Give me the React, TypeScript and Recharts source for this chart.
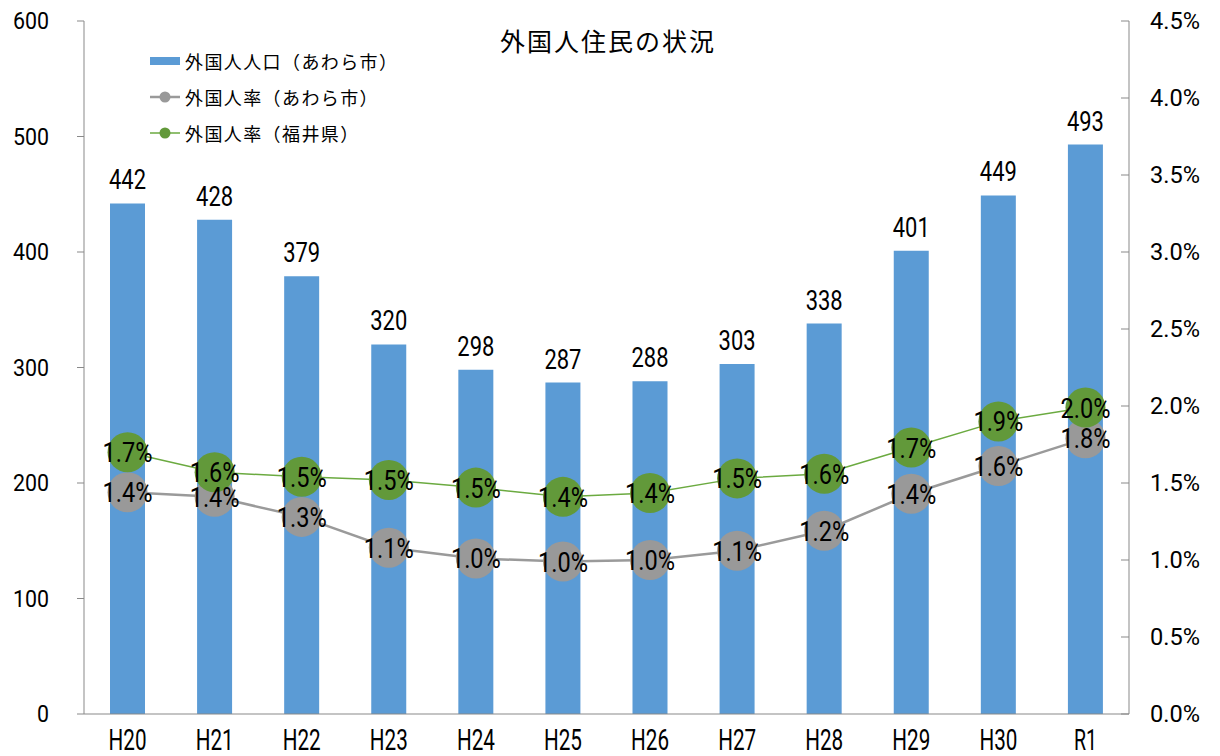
import React from 'react';
import { ComposedChart, Bar, Line, XAxis, YAxis, LabelList } from 'recharts';

const categories = ['H20', 'H21', 'H22', 'H23', 'H24', 'H25', 'H26', 'H27', 'H28', 'H29', 'H30', 'R1'];
const population = [442, 428, 379, 320, 298, 287, 288, 303, 338, 401, 449, 493];
const rateAwara = [1.44, 1.41, 1.28, 1.08, 1.01, 0.99, 1.0, 1.06, 1.19, 1.43, 1.61, 1.79];
const rateFukui = [1.7, 1.57, 1.54, 1.52, 1.47, 1.41, 1.435, 1.53, 1.56, 1.73, 1.9, 1.99];
const leftTicks = [0, 100, 200, 300, 400, 500, 600];
const rightTicks = [0, 0.5, 1.0, 1.5, 2.0, 2.5, 3.0, 3.5, 4.0, 4.5];

const TITLE = '外国人住民の状況';
const LEGEND_POP = '外国人人口（あわら市）';
const LEGEND_AWARA = '外国人率（あわら市）';
const LEGEND_FUKUI = '外国人率（福井県）';

const data = categories.map((c, i) => ({
  name: c,
  pop: population[i],
  awara: rateAwara[i],
  fukui: rateFukui[i],
}));

const BLUE = '#5B9BD5';
const GRAY = '#999999';
const GRAY_LINE = '#9a9a9a';
const GREEN = '#62993A';
const GREEN_LINE = '#6BAA40';
const AXIS = '#898989';
const NUM_FONT = 'Roboto, "Liberation Sans", sans-serif';
const CJK_FONT = '"Noto Sans CJK JP", "Noto Sans", sans-serif';

const LeftTick = (props: any) => {
  const { x, y, payload } = props;
  const s = String(payload.value);
  return (
    <g>
      <line x1={x - 7} x2={x} y1={y} y2={y} stroke={AXIS} strokeWidth={1} />
      <text
        x={x - 35}
        y={y + 8}
        textAnchor="end"
        fontFamily={NUM_FONT}
        fontSize={23}
        fill="#000"
        textLength={12 * s.length}
        lengthAdjust="spacingAndGlyphs"
      >
        {s}
      </text>
    </g>
  );
};

const RightTick = (props: any) => {
  const { x, y, payload } = props;
  const s = `${Number(payload.value).toFixed(1)}%`;
  return (
    <g>
      <line x1={x - 8} x2={x} y1={y} y2={y} stroke={AXIS} strokeWidth={1} />
      <text
        x={x + 21}
        y={y + 8}
        textAnchor="start"
        fontFamily={NUM_FONT}
        fontSize={23}
        fill="#000"
        textLength={50}
        lengthAdjust="spacingAndGlyphs"
      >
        {s}
      </text>
    </g>
  );
};

const XTick = (props: any) => {
  const { x, y, payload } = props;
  const s = String(payload.value);
  return (
    <text
      x={x}
      y={y + 36}
      textAnchor="middle"
      fontFamily={NUM_FONT}
      fontSize={29}
      fill="#000"
      textLength={s.length === 2 ? 23 : 38}
      lengthAdjust="spacingAndGlyphs"
    >
      {s}
    </text>
  );
};

const BarValueLabel = (props: any) => {
  const { x, y, width, value } = props;
  const s = String(value);
  return (
    <text
      x={x + width / 2}
      y={y - 14}
      textAnchor="middle"
      fontFamily={NUM_FONT}
      fontSize={27}
      fill="#000"
      textLength={37}
      lengthAdjust="spacingAndGlyphs"
    >
      {s}
    </text>
  );
};

const RateLabel = (props: any) => {
  const { x, y, value } = props;
  const s = `${Number(value).toFixed(1)}%`;
  return (
    <text
      x={x}
      y={y + 10}
      textAnchor="middle"
      fontFamily={NUM_FONT}
      fontSize={27}
      fill="#000"
      textLength={50}
      lengthAdjust="spacingAndGlyphs"
    >
      {s}
    </text>
  );
};

const legendRow = (top: number, icon: React.ReactNode, label: string) => (
  <div
    style={{
      position: 'absolute',
      left: 150,
      top: top - 13,
      height: 26,
      display: 'flex',
      alignItems: 'center',
      fontFamily: CJK_FONT,
      fontSize: 18,
      letterSpacing: 1.4,
      color: '#000',
      whiteSpace: 'nowrap',
    }}
  >
    <svg width={32} height={26} style={{ display: 'block' }}>
      {icon}
    </svg>
    <span style={{ marginLeft: 3 }}>{label}</span>
  </div>
);

export default function App() {
  return (
    <div style={{ position: 'absolute', left: 0, top: 0, width: 1220, height: 756, background: '#fff' }}>
      <ComposedChart
        width={1220}
        height={756}
        data={data}
        margin={{ top: 21, right: 0, bottom: 0, left: 0 }}
        barCategoryGap="30%"
      >
        <XAxis
          dataKey="name"
          height={42}
          tickSize={0}
          tickMargin={0}
          tickLine={false}
          axisLine={{ stroke: AXIS, strokeWidth: 1 }}
          tick={<XTick />}
          interval={0}
        />
        <YAxis
          yAxisId="left"
          orientation="left"
          width={84}
          domain={[0, 600]}
          ticks={leftTicks}
          tickSize={0}
          tickMargin={0}
          tickLine={false}
          axisLine={{ stroke: AXIS, strokeWidth: 1 }}
          tick={<LeftTick />}
          interval={0}
        />
        <YAxis
          yAxisId="right"
          orientation="right"
          width={91}
          domain={[0, 4.5]}
          ticks={rightTicks}
          tickSize={0}
          tickMargin={0}
          tickLine={false}
          axisLine={{ stroke: AXIS, strokeWidth: 1 }}
          tick={<RightTick />}
          interval={0}
        />
        <Bar yAxisId="left" dataKey="pop" fill={BLUE} barSize={35} isAnimationActive={false}>
          <LabelList dataKey="pop" content={<BarValueLabel />} />
        </Bar>
        <Line
          yAxisId="right"
          dataKey="awara"
          stroke={GRAY_LINE}
          strokeWidth={2.5}
          dot={{ r: 20, fill: GRAY, stroke: 'none' }}
          activeDot={false}
          isAnimationActive={false}
        >
          <LabelList dataKey="awara" content={<RateLabel />} />
        </Line>
        <Line
          yAxisId="right"
          dataKey="fukui"
          stroke={GREEN_LINE}
          strokeWidth={1.5}
          dot={{ r: 20, fill: GREEN, stroke: 'none' }}
          activeDot={false}
          isAnimationActive={false}
        >
          <LabelList dataKey="fukui" content={<RateLabel />} />
        </Line>
      </ComposedChart>
      <div
        style={{
          position: 'absolute',
          left: 0,
          width: 1216,
          top: 22,
          textAlign: 'center',
          fontFamily: CJK_FONT,
          fontSize: 25,
          color: '#000',
          letterSpacing: 2,
        }}
      >
        {TITLE}
      </div>
      {legendRow(61, <rect x={0} y={9} width={30} height={8} fill={BLUE} />, LEGEND_POP)}
      {legendRow(
        97,
        <g>
          <line x1={0} x2={30} y1={13} y2={13} stroke={GRAY_LINE} strokeWidth={2.5} />
          <circle cx={15} cy={13} r={5.5} fill={GRAY} />
        </g>,
        LEGEND_AWARA
      )}
      {legendRow(
        133,
        <g>
          <line x1={0} x2={30} y1={13} y2={13} stroke={GREEN_LINE} strokeWidth={1.5} />
          <circle cx={15} cy={13} r={5.5} fill={GREEN} />
        </g>,
        LEGEND_FUKUI
      )}
    </div>
  );
}
